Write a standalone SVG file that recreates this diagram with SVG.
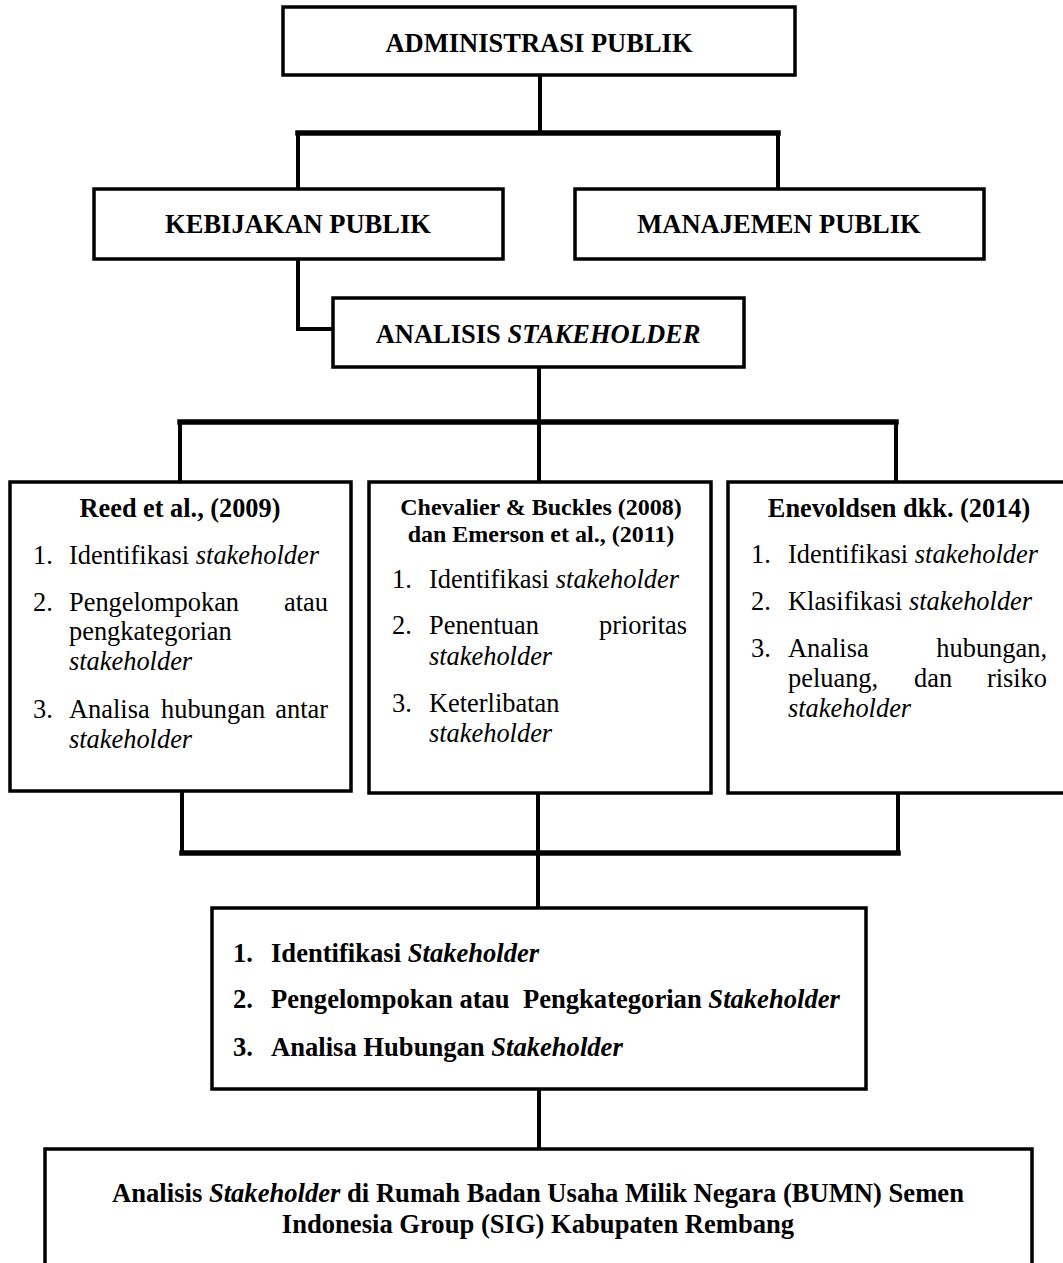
<svg xmlns="http://www.w3.org/2000/svg" width="1063" height="1263" viewBox="0 0 1063 1263">
<style>
.box{fill:#fff;stroke:#000;stroke-width:3.5}
.ln{fill:none;stroke:#000;stroke-width:4;stroke-linecap:square}
.bar{fill:none;stroke:#000;stroke-width:5.5;stroke-linecap:square}
text{font-family:"Liberation Serif","Times New Roman",serif;fill:#000}
.h{font-size:26.5px;font-weight:bold;text-anchor:middle}
.t{font-size:26.3px;font-weight:bold;text-anchor:middle}
.t2{font-size:24px;font-weight:bold;text-anchor:middle}
.tf{font-size:26.6px;font-weight:bold;text-anchor:middle}
.li{font-size:26.4px}
.bl{font-size:26.6px;font-weight:bold}
.i{font-style:italic}
</style>
<g id="connectors">
<path class="ln" d="M540,75 V133"/>
<path class="bar" d="M298,133 H778"/>
<path class="ln" d="M298,133 V189 M778,133 V189"/>
<path class="ln" d="M298,259 V329 H333"/>
<path class="ln" d="M539,367 V422"/>
<path class="bar" d="M180,422 H896"/>
<path class="ln" d="M180,422 V482 M539,422 V482 M896,422 V482"/>
<path class="ln" d="M182,791 V853 M898,793 V853 M538,793 V908"/>
<path class="bar" d="M182,853 H898"/>
<path class="ln" d="M539,1089 V1149"/>
</g>
<g id="n-admin">
<rect class="box" x="283" y="7" width="512" height="68"/>
<text class="h" x="539" y="52">ADMINISTRASI PUBLIK</text>
</g>
<g id="n-kebijakan">
<rect class="box" x="94" y="189" width="409" height="70"/>
<text class="h" x="298" y="233">KEBIJAKAN PUBLIK</text>
</g>
<g id="n-manajemen">
<rect class="box" x="575" y="189" width="409" height="70"/>
<text class="h" x="779" y="233">MANAJEMEN PUBLIK</text>
</g>
<g id="n-analisis">
<rect class="box" x="333" y="298" width="411" height="69"/>
<text class="h" x="538" y="343">ANALISIS <tspan class="i">STAKEHOLDER</tspan></text>
</g>
<g id="n-reed">
<rect class="box" x="10" y="482" width="341" height="309"/>
<text class="t" x="180" y="517">Reed et al., (2009)</text>
<text class="li" x="33" y="564">1.</text>
<text class="li" x="69" y="564">Identifikasi <tspan class="i">stakeholder</tspan></text>
<text class="li" x="33" y="611">2.</text>
<text class="li" x="69" y="611">Pengelompokan</text>
<text class="li" x="328" y="611" text-anchor="end">atau</text>
<text class="li" x="69" y="640">pengkategorian</text>
<text class="li i" x="69" y="670">stakeholder</text>
<text class="li" x="33" y="718">3.</text>
<text class="li" x="69" y="718">Analisa</text>
<text class="li" x="161" y="718">hubungan</text>
<text class="li" x="328" y="718" text-anchor="end">antar</text>
<text class="li i" x="69" y="748">stakeholder</text>
</g>
<g id="n-chevalier">
<rect class="box" x="369" y="482" width="342" height="311"/>
<text class="t2" x="541" y="515">Chevalier &amp; Buckles (2008)</text>
<text class="t2" x="541" y="542">dan Emerson et al., (2011)</text>
<text class="li" x="392" y="588">1.</text>
<text class="li" x="429" y="588">Identifikasi <tspan class="i">stakeholder</tspan></text>
<text class="li" x="392" y="634">2.</text>
<text class="li" x="429" y="634">Penentuan</text>
<text class="li" x="687" y="634" text-anchor="end">prioritas</text>
<text class="li i" x="429" y="665">stakeholder</text>
<text class="li" x="392" y="712">3.</text>
<text class="li" x="429" y="712">Keterlibatan</text>
<text class="li i" x="429" y="742">stakeholder</text>
</g>
<g id="n-enevoldsen">
<rect class="box" x="728" y="482" width="340" height="311"/>
<text class="t" x="899" y="517">Enevoldsen dkk. (2014)</text>
<text class="li" x="751" y="563">1.</text>
<text class="li" x="788" y="563">Identifikasi <tspan class="i">stakeholder</tspan></text>
<text class="li" x="751" y="610">2.</text>
<text class="li" x="788" y="610">Klasifikasi <tspan class="i">stakeholder</tspan></text>
<text class="li" x="751" y="657">3.</text>
<text class="li" x="788" y="657">Analisa</text>
<text class="li" x="1047" y="657" text-anchor="end">hubungan,</text>
<text class="li" x="788" y="687">peluang,</text>
<text class="li" x="914" y="687">dan</text>
<text class="li" x="1047" y="687" text-anchor="end">risiko</text>
<text class="li i" x="788" y="717">stakeholder</text>
</g>
<g id="n-summary">
<rect class="box" x="212" y="908" width="654" height="181"/>
<text class="bl" x="233" y="962">1.</text>
<text class="bl" x="271" y="962">Identifikasi <tspan class="i">Stakeholder</tspan></text>
<text class="bl" x="233" y="1008">2.</text>
<text class="bl" x="271" y="1008">Pengelompokan atau&#160; Pengkategorian <tspan class="i">Stakeholder</tspan></text>
<text class="bl" x="233" y="1056">3.</text>
<text class="bl" x="271" y="1056">Analisa Hubungan <tspan class="i">Stakeholder</tspan></text>
</g>
<g id="n-final">
<rect class="box" x="45" y="1149" width="987" height="130"/>
<text class="tf" x="538" y="1202">Analisis <tspan class="i">Stakeholder</tspan> di Rumah Badan Usaha Milik Negara (BUMN) Semen</text>
<text class="tf" x="538" y="1233">Indonesia Group (SIG) Kabupaten Rembang</text>
</g>
</svg>
